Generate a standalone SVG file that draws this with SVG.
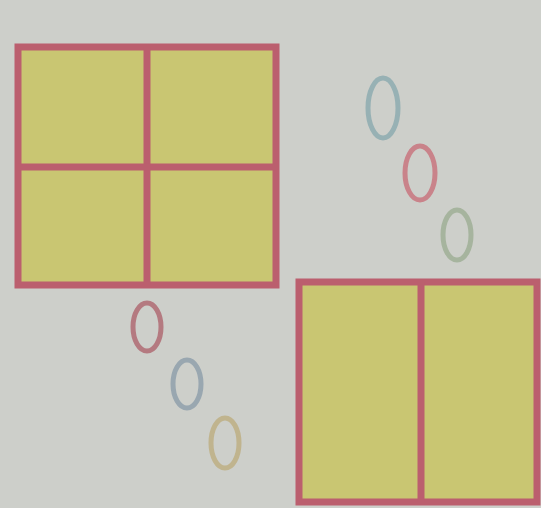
<svg xmlns="http://www.w3.org/2000/svg" width="541" height="508" viewBox="0 0 541 508">
<style>
.box{fill:#c9c672;stroke:#bb5f6e;stroke-width:7}
.div{stroke:#bb5f6e;stroke-width:7;fill:none}
.ring{fill:none;stroke-width:5}
</style>
<rect x="0" y="0" width="541" height="508" fill="#cdcfca"/>
<g id="square-four">
<rect class="box" x="18" y="47" width="258" height="238"/>
<line class="div" x1="147" y1="47" x2="147" y2="285"/>
<line class="div" x1="18" y1="167" x2="276" y2="167"/>
</g>
<g id="square-two">
<rect class="box" x="299" y="282" width="238" height="220"/>
<line class="div" x1="421" y1="282" x2="421" y2="502"/>
</g>
<g id="rings-top">
<ellipse class="ring" cx="383" cy="108" rx="15" ry="30" stroke="#97b1b4"/>
<ellipse class="ring" cx="420" cy="173" rx="15" ry="27" stroke="#c9838a"/>
<ellipse class="ring" cx="457" cy="235" rx="14" ry="25" stroke="#a6b49e"/>
</g>
<g id="rings-bottom">
<ellipse class="ring" cx="147" cy="327" rx="14" ry="24" stroke="#b47a80"/>
<ellipse class="ring" cx="187" cy="384" rx="14" ry="24" stroke="#99a7b0"/>
<ellipse class="ring" cx="225" cy="443" rx="14" ry="25" stroke="#c0b48e"/>
</g>
</svg>
